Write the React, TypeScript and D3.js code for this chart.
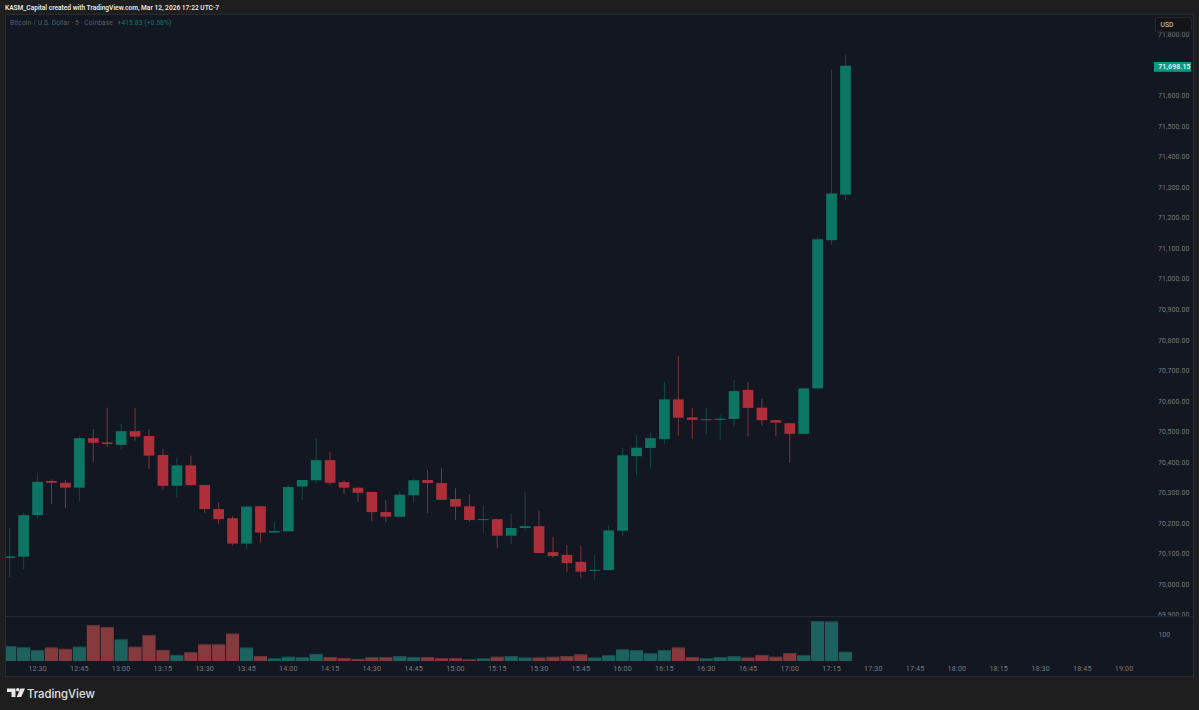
import React from "react";
import * as d3 from "d3";

const opens = [70087,70091,70227,70339,70333,70317,70479,70465,70457,70502,70486,70424,70323,70390,70326,70247,70217,70134,70256,70170,70174,70321,70341,70407,70335,70317,70303,70237,70222,70292,70342,70332,70280,70256,70213,70214,70160,70185,70191,70106,70097,70074,70047,70047,70176,70420,70447,70476,70606,70547,70540,70539,70542,70637,70579,70538,70528,70493,70642,71127,71276];
const highs = [70186,70235,70366,70344,70342,70486,70509,70579,70525,70577,70509,70443,70413,70422,70326,70269,70223,70256,70257,70207,70328,70342,70478,70435,70341,70317,70303,70277,70307,70345,70374,70382,70315,70295,70259,70214,70231,70303,70240,70156,70129,70128,70097,70194,70448,70489,70496,70663,70748,70577,70577,70555,70669,70663,70608,70538,70528,70642,71138,71687,71733];
const lows = [70024,70051,70215,70264,70250,70273,70401,70450,70441,70471,70379,70309,70285,70325,70234,70199,70127,70114,70137,70170,70174,70277,70330,70325,70296,70270,70208,70205,70218,70266,70234,70277,70211,70205,70169,70120,70132,70174,70103,70087,70041,70021,70015,70047,70160,70359,70379,70461,70488,70476,70493,70473,70516,70484,70520,70485,70398,70493,70642,71112,71258];
const closes = [70092,70227,70336,70333,70317,70479,70464,70460,70502,70484,70422,70323,70390,70325,70247,70214,70134,70255,70170,70175,70319,70342,70407,70333,70317,70300,70237,70222,70294,70341,70332,70277,70255,70211,70214,70160,70185,70191,70103,70093,70070,70042,70048,70177,70423,70448,70479,70606,70546,70539,70541,70543,70633,70578,70538,70530,70493,70642,71130,71280,71698.15];
const volumes = [57,52,42,51,46,54,136,129,82,54,98,42,23,33,63,63,104,51,19,10,16,14,27,15,11,8,14,14,18,15,15,11,11,6,10,16,19,13,13,16,19,25,13,22,44,41,29,42,51,15,10,15,18,13,22,16,30,22,152,150,35];
const priceTicks = [69900,70000,70100,70200,70300,70400,70500,70600,70700,70800,70900,71000,71100,71200,71300,71400,71500,71600,71800];
const timeLabels = ["12:30","12:45","13:00","13:15","13:30","13:45","14:00","14:15","14:30","14:45","15:00","15:15","15:30","15:45","16:00","16:15","16:30","16:45","17:00","17:15","17:30","17:45","18:00","18:15","18:30","18:45","19:00"];
const volumeTicks = [100];
const lastPrice = 71698.15;

const UI = "Roboto, 'Liberation Sans', sans-serif";
const GREEN = "#0d7563";
const RED = "#ae2e3a";
const GREEN_WICK = "#0e4a45";
const RED_WICK = "#7f3439";
const GREEN_VOL = "#1e625f";
const RED_VOL = "#853a3d";
const AXIS = "#76777d";

export default function App() {
  const x = d3.scaleLinear().domain([0, 78]).range([9.7, 9.7 + 78 * 13.93]);
  const y = d3.scaleLinear().domain([70000, 71600]).range([584.5, 95.7]);
  const v = d3.scaleLinear().domain([0, 100]).range([661, 634.7]);
  const fmt = d3.format(",.2f");
  const bodyW = 10.7;
  const volW = 13.1;

  return (
    <svg width={1199} height={710} viewBox="0 0 1199 710"
      style={{ position: "fixed", left: 0, top: 0, display: "block" }}>
      <rect width={1199} height={710} fill="#1e1e1e" />
      <rect x={5.5} y={14.5} width={1188} height={662} fill="#131722" stroke="#2a2c33" strokeWidth={1} />
      <defs>
        <clipPath id="mainPane"><rect x={6} y={15} width={1187} height={601} /></clipPath>
        <clipPath id="volPane"><rect x={6} y={617} width={1187} height={59} /></clipPath>
      </defs>
      <line x1={6} x2={1193} y1={616.5} y2={616.5} stroke="#262933" />

      <text x={5} y={10.3} fontFamily={UI} fontSize={6.6} fontWeight={600} fill="#e6e6e6">KASM_Capital created with TradingView.com, Mar 12, 2026 17:22 UTC-7</text>
      <text x={10} y={25.3} fontFamily={UI} fontSize={6.6} fill="#5c5f67" letterSpacing={0.14}>Bitcoin / U.S. Dollar · 5 · Coinbase</text>
      <text x={117.5} y={25.3} fontFamily={UI} fontSize={6.6} fill="#0b7f6c" letterSpacing={0.14}>+415.83 (+0.58%)</text>

      <g clipPath="url(#mainPane)">
        {priceTicks.map((p) => (
          <text key={p} x={1158} y={y(p) + 2.4} fontFamily={UI} fontSize={6.9} fill={AXIS} letterSpacing={0.14}>{fmt(p)}</text>
        ))}
        {opens.map((o, i) => {
          const up = closes[i] >= o;
          const top = Math.min(y(o), y(closes[i]));
          const h = Math.max(Math.abs(y(o) - y(closes[i])), 1);
          return (
            <g key={i}>
              <line x1={x(i)} x2={x(i)} y1={y(highs[i])} y2={y(lows[i])} stroke={up ? GREEN_WICK : RED_WICK} strokeWidth={1} />
              <rect x={x(i) - bodyW / 2} y={top} width={bodyW} height={h} fill={up ? GREEN : RED} />
            </g>
          );
        })}
      </g>

      <g clipPath="url(#volPane)">
        {volumes.map((val, i) => {
          const up = closes[i] >= opens[i];
          const left = Math.max(x(i) - volW / 2, 6);
          return (
            <g key={i}>
              <rect x={left} y={v(val)} width={x(i) + volW / 2 - left} height={661 - v(val)} fill={up ? GREEN_VOL : RED_VOL} />
              <rect x={left} y={v(val)} width={x(i) + volW / 2 - left} height={0.8} fill={up ? "#154c4b" : "#5f3436"} />
            </g>
          );
        })}
        {volumeTicks.map((t) => (
          <text key={t} x={1158.5} y={v(t) + 2.6} fontFamily={UI} fontSize={6.9} fill={AXIS}>{t}</text>
        ))}
      </g>

      {timeLabels.map((t, i) => (
        <text key={t} x={x(2 + i * 3)} y={671.3} textAnchor="middle" fontFamily={UI} fontSize={7.2} fill={AXIS} letterSpacing={0.15}>{t}</text>
      ))}

      <rect x={1155.5} y={17.5} width={36} height={14.5} rx={1.5} fill="#141414" stroke="#24262c" />
      <text x={1160.5} y={27.3} fontFamily={UI} fontSize={6.8} fill="#d8d8d8">USD</text>

      <rect x={1154} y={62} width={37} height={9.8} fill="#089981" />
      <text x={1158.2} y={y(lastPrice) + 3} fontFamily={UI} fontSize={6.9} fontWeight={600} fill="#e8f4f1" letterSpacing={0.14}>{fmt(lastPrice)}</text>

      <path d="M7 688.5h8.5v8.5h-4v-5H7zM17.8 691.5a1.8 1.8 0 1 0 0-3.6a1.8 1.8 0 0 0 0 3.6zM20.5 688.5h4.5l-3.8 8.5h-4.5z" fill="#e8e8e8" />
      <text x={27} y={698} fontFamily="Inter, Roboto, sans-serif" fontSize={11.3} fontWeight={500} fill="#e0e0e0">TradingView</text>
    </svg>
  );
}
